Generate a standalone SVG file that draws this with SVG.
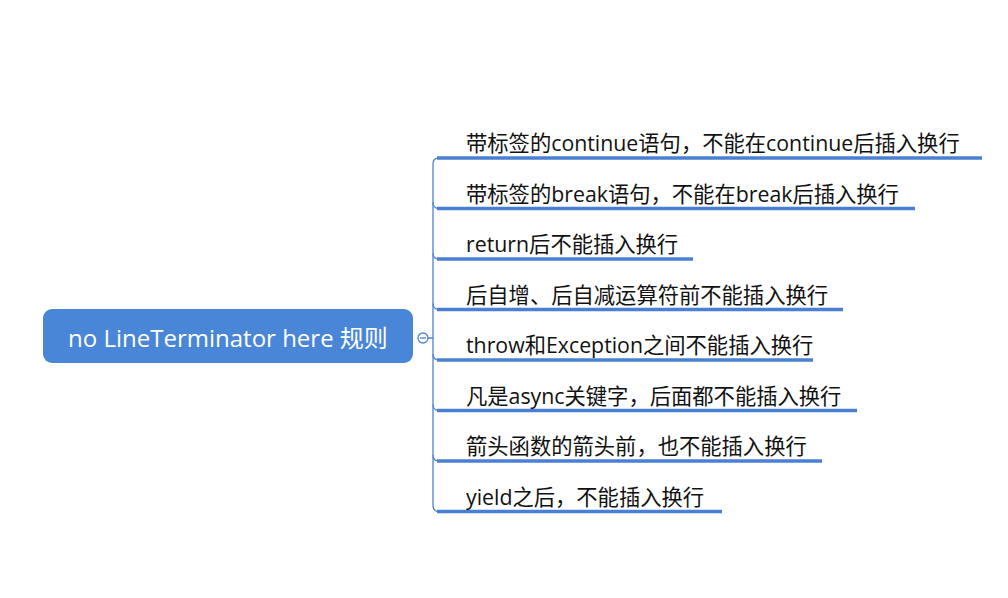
<svg xmlns="http://www.w3.org/2000/svg" width="1008" height="598" viewBox="0 0 1008 598">
<style>
.t{font-family:"Open Sans","Noto Sans CJK SC",sans-serif;font-size:21.3px;fill:#111111}
.r{font-family:"Open Sans","Noto Sans CJK SC",sans-serif;font-size:24px;fill:#ffffff}
.u{stroke:#4a80d4;stroke-width:3.5;fill:none}
.c{stroke:#4f84d2;stroke-width:1.3;fill:none}
</style>
<rect width="1008" height="598" fill="#ffffff"/>
<g id="connectors">
<path class="c" d="M428 338 H433 V164 Q433 158 439 158"/>
<path class="c" d="M433 202 Q433 208.5 439 208.5"/>
<path class="c" d="M433 253 Q433 259 439 259"/>
<path class="c" d="M433 303.5 Q433 309.5 439 309.5"/>
<path class="c" d="M433 354 Q433 360 439 360"/>
<path class="c" d="M433 404.5 Q433 410.5 439 410.5"/>
<path class="c" d="M433 455 Q433 461 439 461"/>
<path class="c" d="M433 338 V505.5 Q433 511.5 439 511.5"/>
</g>
<g id="root">
<rect x="43" y="309" width="370" height="54" rx="9" fill="#4a86d8"/>
<text class="r" x="228" y="347" text-anchor="middle">no LineTerminator here 规则</text>
<circle cx="423" cy="338" r="5" fill="#ffffff" stroke="#4f84d2" stroke-width="1.3"/>
<line x1="420" y1="338" x2="426" y2="338" stroke="#4f84d2" stroke-width="1.3"/>
</g>
<g id="n1"><line class="u" x1="437" y1="158" x2="982" y2="158"/><text class="t" x="466" y="151">带标签的continue语句，不能在continue后插入换行</text></g>
<g id="n2"><line class="u" x1="437" y1="208.5" x2="915" y2="208.5"/><text class="t" x="466" y="201.5">带标签的break语句，不能在break后插入换行</text></g>
<g id="n3"><line class="u" x1="437" y1="259" x2="693" y2="259"/><text class="t" x="466" y="252">return后不能插入换行</text></g>
<g id="n4"><line class="u" x1="437" y1="309.5" x2="843" y2="309.5"/><text class="t" x="466" y="302.5">后自增、后自减运算符前不能插入换行</text></g>
<g id="n5"><line class="u" x1="437" y1="360" x2="813" y2="360"/><text class="t" x="466" y="353">throw和Exception之间不能插入换行</text></g>
<g id="n6"><line class="u" x1="437" y1="410.5" x2="857" y2="410.5"/><text class="t" x="466" y="403.5">凡是async关键字，后面都不能插入换行</text></g>
<g id="n7"><line class="u" x1="437" y1="461" x2="822" y2="461"/><text class="t" x="466" y="454">箭头函数的箭头前，也不能插入换行</text></g>
<g id="n8"><line class="u" x1="437" y1="511.5" x2="722" y2="511.5"/><text class="t" x="466" y="504.5">yield之后，不能插入换行</text></g>
</svg>
